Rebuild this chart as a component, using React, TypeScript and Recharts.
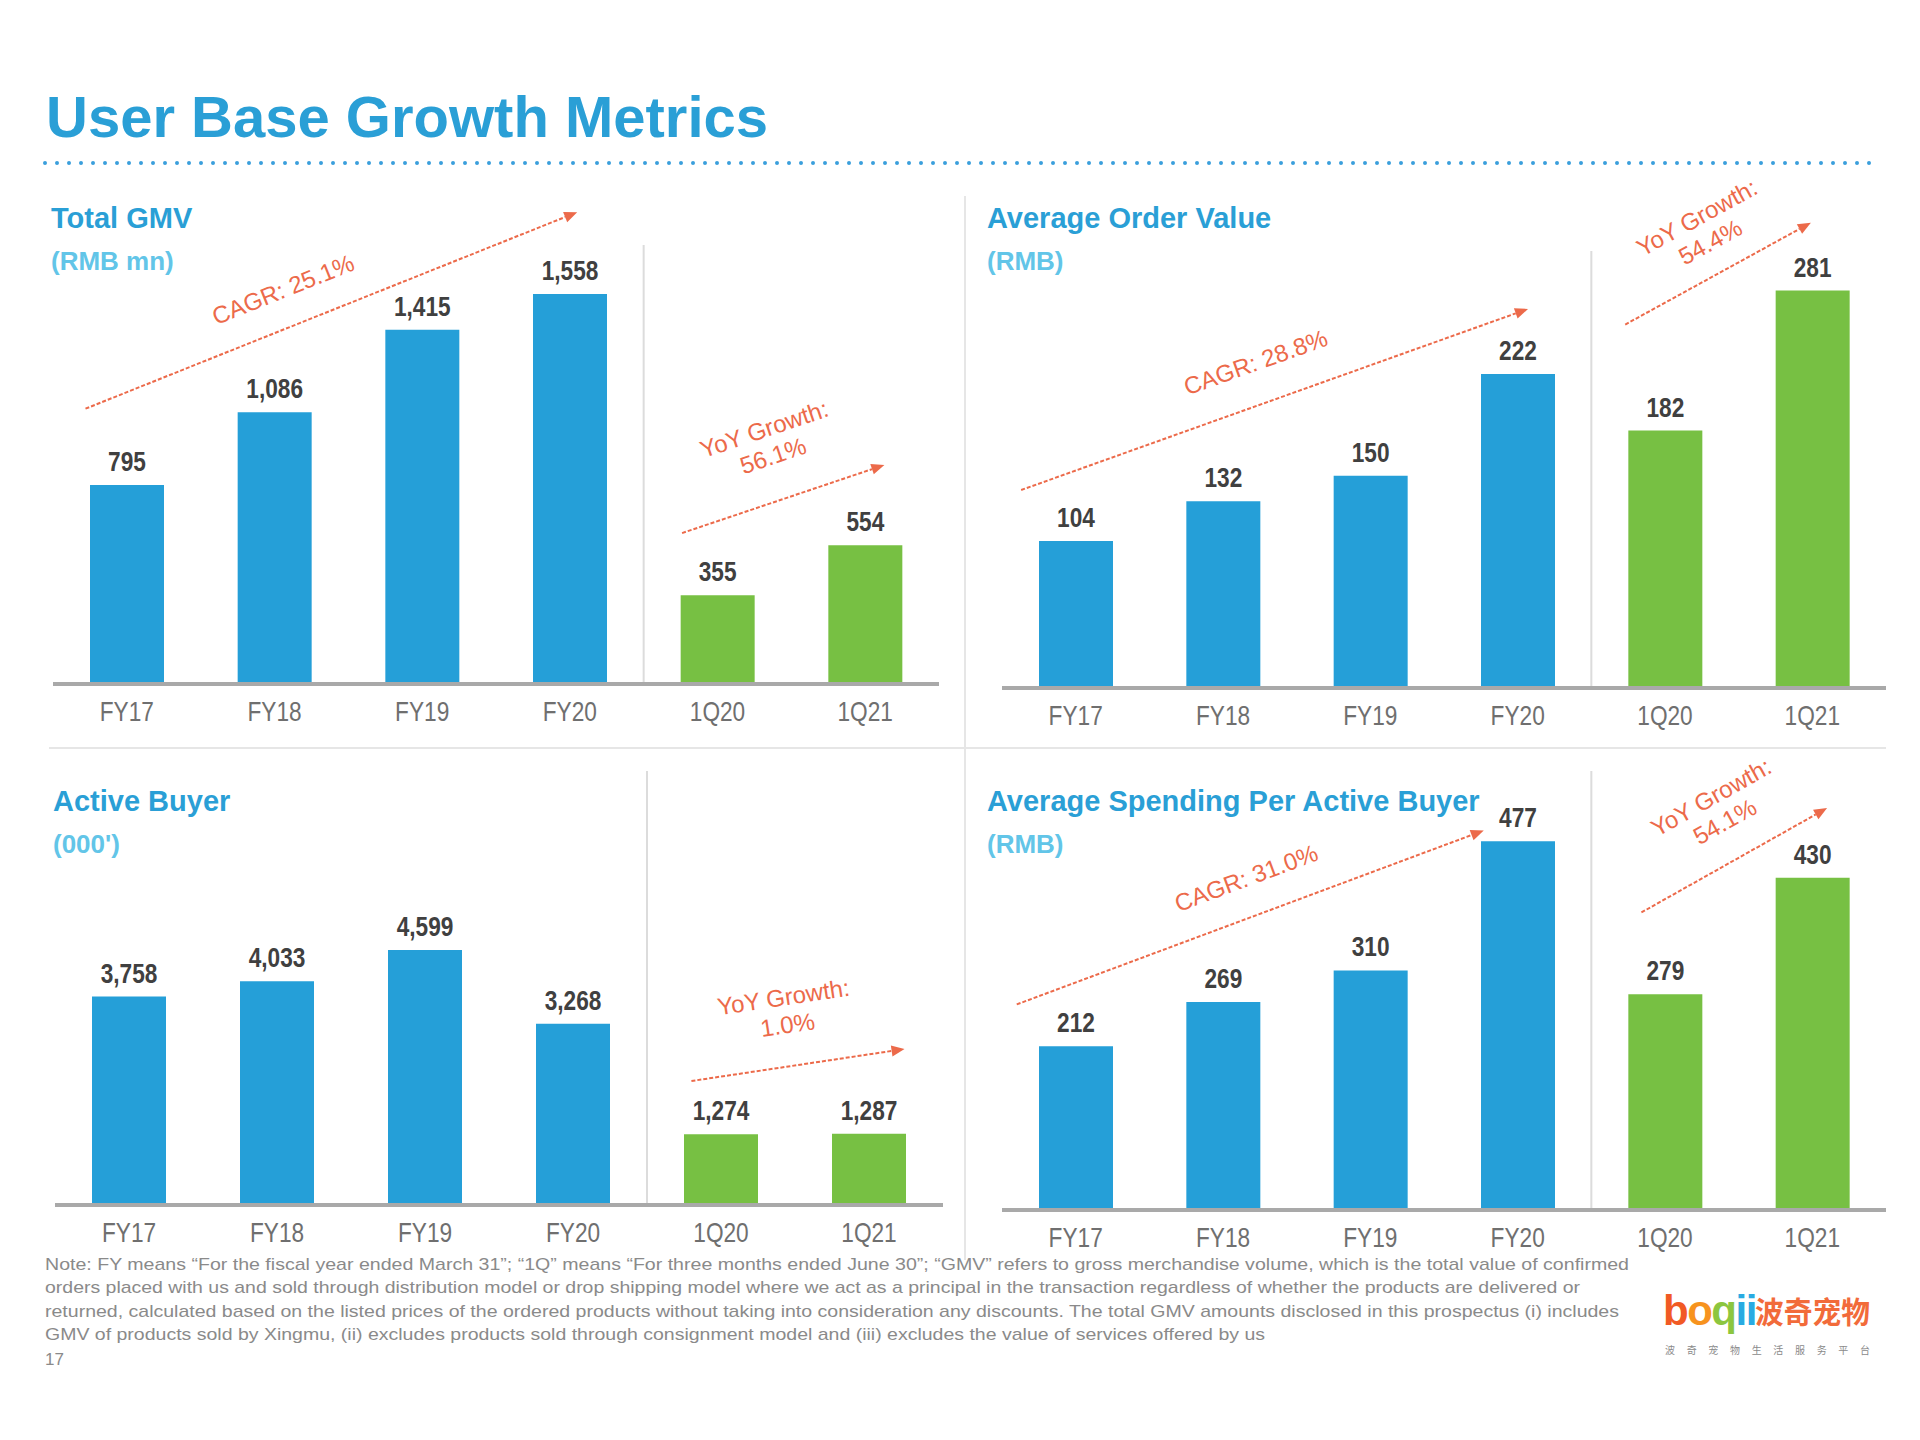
import React from 'react';
import { BarChart, Bar, XAxis, YAxis, Cell, LabelList, ReferenceLine } from 'recharts';

const categories = ['FY17', 'FY18', 'FY19', 'FY20', '1Q20', '1Q21'];
const totalGmv = [795, 1086, 1415, 1558, 355, 554];
const avgOrderValue = [104, 132, 150, 222, 182, 281];
const activeBuyers = [3758, 4033, 4599, 3268, 1274, 1287];
const avgSpending = [212, 269, 310, 477, 279, 430];

const noteLines = [
  'Note: FY means “For the fiscal year ended March 31”; “1Q” means “For three months ended June 30”; “GMV” refers to gross merchandise volume, which is the total value of confirmed',
  'orders placed with us and sold through distribution model or drop shipping model where we act as a principal in the transaction regardless of whether the products are delivered or',
  'returned, calculated based on the listed prices of the ordered products without taking into consideration any discounts. The total GMV amounts disclosed in this prospectus (i) includes',
  'GMV of products sold by Xingmu, (ii) excludes products sold through consignment model and (iii) excludes the value of services offered by us',
];
const noteWidths = [1584, 1535, 1574, 1220];

const BLUE = '#259fd8';
const GREEN = '#77c043';
const ORANGE = '#ec6a4a';
const TITLE = '#2a9fd6';
const SUB = '#62c5e8';
const SANS = "'Liberation Sans', Arial, sans-serif";
const SQUEEZE = 0.84; // chart labels use a condensed face in the original

// arrow annotation: from/to are [fractional category index, value]
type Note = { from: [number, number]; to: [number, number]; text: string[]; t: number; off: number };

const arrowShape = (note: Note) => (p: any) => {
  const i0 = Math.round(note.from[0]);
  const i1 = Math.round(note.to[0]);
  const k = (p.x2 - p.x1) / (i1 - i0); // px per category, from the band scale
  const x1 = p.x1 + (note.from[0] - i0) * k;
  const x2 = p.x1 + (note.to[0] - i0) * k;
  const y1 = p.y1, y2 = p.y2;
  const a = Math.atan2(y2 - y1, x2 - x1);
  const deg = (a * 180) / Math.PI;
  const ux = Math.cos(a), uy = Math.sin(a);
  const nx = -uy, ny = ux;
  const L = 13, w = 5.5;
  const bx = x2 - ux * L, by = y2 - uy * L;
  const cx = x1 + (x2 - x1) * note.t - nx * note.off;
  const cy = y1 + (y2 - y1) * note.t - ny * note.off;
  const lh = 28;
  const n = note.text.length;
  return (
    <g>
      <line x1={x1} y1={y1} x2={bx} y2={by} stroke={ORANGE} strokeWidth={2} strokeDasharray="4 2" />
      <polygon points={`${x2},${y2} ${bx + nx * w},${by + ny * w} ${bx - nx * w},${by - ny * w}`} fill={ORANGE} />
      <text transform={`rotate(${deg} ${cx} ${cy})`} fill={ORANGE} fontSize={24} fontFamily={SANS} textAnchor="middle">
        {note.text.map((s, i) => (
          <tspan key={i} x={cx} y={cy + (i - (n - 1) / 2) * lh + 8}>{s}</tspan>
        ))}
      </text>
    </g>
  );
};

// vertical divider halfway between the two segment categories
const dividerShape = (p: any) => {
  const x = (p.x1 + p.x2) / 2;
  return <line x1={x} y1={p.y1} x2={x} y2={p.y2} stroke="#dcdcdc" strokeWidth={2} />;
};

const CatTick = (p: any) => (
  <text
    transform={`translate(${p.x},${p.y}) scale(${SQUEEZE},1)`}
    textAnchor="middle"
    dy="0.71em"
    fill="#6f6f6f"
    fontSize={27}
    fontFamily={SANS}
  >
    {p.payload.value}
  </text>
);

const valueLabel = (p: any) => {
  const cx = Number(p.x) + Number(p.width) / 2;
  return (
    <text
      transform={`translate(${cx},${Number(p.y) - 14}) scale(${SQUEEZE},1)`}
      textAnchor="middle"
      fill="#404040"
      fontSize={27}
      fontWeight={700}
      fontFamily={SANS}
    >
      {Number(p.value).toLocaleString('en-US')}
    </text>
  );
};

type PanelProps = {
  values: number[];
  box: [number, number, number, number];
  margin: { top: number; right: number; bottom: number; left: number };
  axisH: number;
  yMax: number;
  notes: Note[];
};

function Panel({ values, box, margin, axisH, yMax, notes }: PanelProps) {
  const data = categories.map((c, i) => ({ name: c, value: values[i] }));
  return (
    <div style={{ position: 'absolute', left: box[0], top: box[1] }}>
      <BarChart width={box[2]} height={box[3]} data={data} margin={margin} barCategoryGap={0}>
        <XAxis
          dataKey="name"
          height={axisH}
          axisLine={{ stroke: '#a9a9a9', strokeWidth: 4 }}
          tickLine={false}
          tickSize={0}
          tickMargin={18}
          interval={0}
          tick={<CatTick />}
        />
        <YAxis hide domain={[0, yMax]} allowDataOverflow />
        <ReferenceLine
          segment={[{ x: categories[3], y: 0 }, { x: categories[4], y: yMax }]}
          ifOverflow="visible"
          shape={dividerShape}
        />
        <Bar dataKey="value" barSize={74} isAnimationActive={false}>
          {data.map((d) => (
            <Cell key={d.name} fill={d.name.startsWith('1Q') ? GREEN : BLUE} />
          ))}
          <LabelList dataKey="value" content={valueLabel} />
        </Bar>
        {notes.map((n, i) => (
          <ReferenceLine
            key={i}
            segment={[
              { x: categories[Math.round(n.from[0])], y: n.from[1] },
              { x: categories[Math.round(n.to[0])], y: n.to[1] },
            ]}
            ifOverflow="visible"
            shape={arrowShape(n)}
          />
        ))}
      </BarChart>
    </div>
  );
}

export default function App() {
  return (
    <div style={{ position: 'absolute', left: 0, top: 0, width: 1920, height: 1440, background: '#fff' }}>
      <svg width={1920} height={1440} style={{ position: 'absolute', left: 0, top: 0 }}>
        <text x={46} y={137} fontSize={58} fontWeight={700} fontFamily={SANS} fill={TITLE}>User Base Growth Metrics</text>
        <line x1={45} y1={163} x2={1880} y2={163} stroke="#3a9fdc" strokeWidth={4} strokeDasharray="0 12" strokeLinecap="round" />
        <line x1={965} y1={196} x2={965} y2={1260} stroke="#e6e6e6" strokeWidth={2} />
        <line x1={49} y1={748} x2={1886} y2={748} stroke="#e6e6e6" strokeWidth={2} />

        <text x={51} y={228} fontSize={29} fontWeight={700} fontFamily={SANS} fill={TITLE}>Total GMV</text>
        <text x={51} y={270} fontSize={26} fontWeight={700} fontFamily={SANS} fill={SUB}>(RMB mn)</text>
        <text x={987} y={228} fontSize={29} fontWeight={700} fontFamily={SANS} fill={TITLE}>Average Order Value</text>
        <text x={987} y={270} fontSize={26} fontWeight={700} fontFamily={SANS} fill={SUB}>(RMB)</text>
        <text x={53} y={811} fontSize={29} fontWeight={700} fontFamily={SANS} fill={TITLE}>Active Buyer</text>
        <text x={53} y={853} fontSize={26} fontWeight={700} fontFamily={SANS} fill={SUB}>(000')</text>
        <text x={987} y={811} fontSize={29} fontWeight={700} fontFamily={SANS} fill={TITLE}>Average Spending Per Active Buyer</text>
        <text x={987} y={853} fontSize={26} fontWeight={700} fontFamily={SANS} fill={SUB}>(RMB)</text>

        {noteLines.map((s, i) => (
          <text key={i} x={45} y={1270 + i * 23.3} fontSize={17} fontFamily={SANS} fill="#8a8a8a" textLength={noteWidths[i]} lengthAdjust="spacingAndGlyphs">{s}</text>
        ))}
        <text x={45} y={1365} fontSize={17} fontFamily={SANS} fill="#8a8a8a">17</text>

        <text x={1663} y={1325} fontSize={42} fontWeight={900} fontFamily={SANS} letterSpacing={-1.5}>
          <tspan fill="#f15a24">b</tspan>
          <tspan fill="#f7931e">o</tspan>
          <tspan fill="#8cc63f">q</tspan>
          <tspan fill="#29abe2">ii</tspan>
        </text>
        <text x={1755} y={1323} fontSize={30} fontWeight={700} fontFamily="'Noto Sans CJK SC', sans-serif" fill="#f26b3a" textLength={115} lengthAdjust="spacingAndGlyphs">波奇宠物</text>
        <text x={1665} y={1354} fontSize={10} fontFamily="'Noto Sans CJK SC', sans-serif" fill="#8a8a8a" textLength={205}>波奇宠物生活服务平台</text>
      </svg>

      <Panel
        values={totalGmv}
        box={[40, 160, 910, 580]}
        margin={{ top: 85, right: 11, bottom: 0, left: 13 }}
        axisH={56}
        yMax={1754}
        notes={[
          { from: [-0.28, 1100], to: [3.05, 1885], text: ['CAGR: 25.1%'], t: 0.43, off: 37 },
          { from: [3.76, 603], to: [5.13, 875], text: ['YoY Growth:', '56.1%'], t: 0.52, off: 58 },
        ]}
      />
      <Panel
        values={avgOrderValue}
        box={[990, 150, 910, 595]}
        margin={{ top: 101, right: 14, bottom: 0, left: 12 }}
        axisH={57}
        yMax={309}
        notes={[
          { from: [-0.37, 140], to: [3.07, 268], text: ['CAGR: 28.8%'], t: 0.49, off: 41 },
          { from: [3.73, 257], to: [4.99, 329], text: ['YoY Growth:', '54.4%'], t: 0.54, off: 45 },
        ]}
      />
      <Panel
        values={activeBuyers}
        box={[40, 740, 910, 520]}
        margin={{ top: 31, right: 7, bottom: 0, left: 15 }}
        axisH={55}
        yMax={7827}
        notes={[
          { from: [3.8, 2236], to: [5.24, 2813], text: ['YoY Growth:', '1.0%'], t: 0.48, off: 55 },
        ]}
      />
      <Panel
        values={avgSpending}
        box={[990, 730, 910, 530]}
        margin={{ top: 41, right: 14, bottom: 0, left: 12 }}
        axisH={50}
        yMax={568}
        notes={[
          { from: [-0.4, 266], to: [2.77, 491], text: ['CAGR: 31.0%'], t: 0.52, off: 38 },
          { from: [3.84, 385], to: [5.1, 520], text: ['YoY Growth:', '54.1%'], t: 0.55, off: 52 },
        ]}
      />
    </div>
  );
}
